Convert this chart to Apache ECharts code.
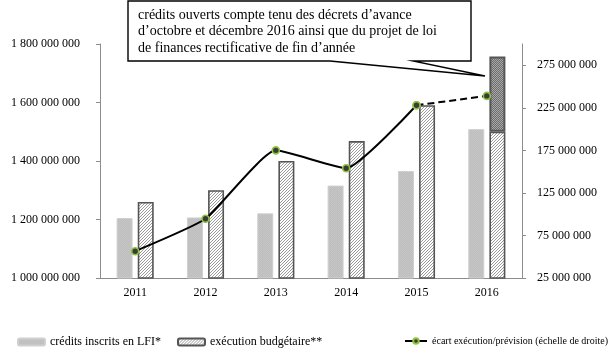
<!DOCTYPE html>
<html>
<head>
<meta charset="utf-8">
<script src="https://cdn.jsdelivr.net/npm/echarts@6/dist/echarts.min.js"></script>
<style>html,body{margin:0;padding:0;background:#fff}#c{width:615px;height:362px}</style>
</head>
<body>
<div id="c"></div>
<script>
var years = ['2011', '2012', '2013', '2014', '2015', '2016'];
var creditsLFI = [1205e6, 1207e6, 1221e6, 1316e6, 1366e6, 1509e6];
var execution = [1260e6, 1300e6, 1400e6, 1468e6, 1591e6, 1500e6];
var creditsOuverts2016 = [null, null, null, null, null, 257e6];
var ecart = [56.5e6, 94.6e6, 175e6, 154e6, 228e6, null];
var ecartProjete = [null, null, null, null, 228e6, 239e6];
var leftTicks = [1000e6, 1200e6, 1400e6, 1600e6, 1800e6];
var rightTicks = [25e6, 75e6, 125e6, 175e6, 225e6, 275e6];
var legendNames = ['crédits inscrits en LFI*', 'exécution budgétaire**', 'écart exécution/prévision (échelle de droite)'];
var calloutLines = ['crédits ouverts compte tenu des décrets d\u2019avance', 'd\u2019octobre et décembre 2016 ainsi que du projet de loi', 'de finances rectificative de fin d\u2019année'];

var FONT = '"Liberation Serif", serif';
function fmt(v) { return String(Math.round(v)).replace(/\B(?=(\d{3})+(?!\d))/g, ' '); }

function hatchPattern() {
  var c = document.createElement('canvas'); c.width = 3; c.height = 3;
  var x = c.getContext('2d');
  x.fillStyle = '#ffffff'; x.fillRect(0, 0, 3, 3);
  x.fillStyle = '#9a9a9a';
  x.fillRect(2, 0, 1, 1); x.fillRect(1, 1, 1, 1); x.fillRect(0, 2, 1, 1);
  return c;
}
function dotPattern() {
  var c = document.createElement('canvas'); c.width = 2; c.height = 2;
  var x = c.getContext('2d');
  x.fillStyle = '#6c6c6c'; x.fillRect(0, 0, 2, 2);
  x.fillStyle = '#a8a8a8'; x.fillRect(0, 0, 1, 1); x.fillRect(1, 1, 1, 1);
  return c;
}
function greyPattern() {
  var c = document.createElement('canvas'); c.width = 2; c.height = 2;
  var x = c.getContext('2d');
  x.fillStyle = '#bdbdbd'; x.fillRect(0, 0, 2, 2);
  x.fillStyle = '#c6c6c6'; x.fillRect(0, 0, 1, 1); x.fillRect(1, 1, 1, 1);
  return c;
}
var hatch = { image: hatchPattern(), repeat: 'repeat' };
var dots = { image: dotPattern(), repeat: 'repeat' };
var greyFill = { image: greyPattern(), repeat: 'repeat' };

var chart = echarts.init(document.getElementById('c'), null, { renderer: 'canvas' });
var textStyleLegend = { fontFamily: FONT, fontSize: 12, color: '#000' };
var option = {
  animation: false,
  textStyle: { fontFamily: FONT },
  grid: { left: 100, right: 93, top: 44, bottom: 84 },
  legend: [
    { data: [legendNames[0]], left: 17, top: 336, padding: 0, itemWidth: 27, itemHeight: 7, textStyle: textStyleLegend },
    { data: [legendNames[1]], left: 177, top: 336, padding: 0, itemWidth: 27, itemHeight: 7, textStyle: textStyleLegend },
    { data: [legendNames[2]], left: 404, top: 336, padding: 0, itemWidth: 22, itemHeight: 7,
      textStyle: { fontFamily: FONT, fontSize: 10, color: '#000' } }
  ],
  xAxis: {
    type: 'category', data: years,
    axisLine: { lineStyle: { color: '#8c8c8c', width: 1 } },
    axisTick: { show: false },
    axisLabel: { color: '#000', fontFamily: FONT, fontSize: 12, margin: 9 }
  },
  yAxis: [
    {
      type: 'value', min: 1000e6, max: 1800e6, interval: 200e6, position: 'left',
      splitLine: { show: false },
      axisLine: { show: true, lineStyle: { color: '#8c8c8c' } },
      axisTick: { show: true, length: 4, lineStyle: { color: '#8c8c8c' }, customValues: leftTicks },
      axisLabel: { color: '#000', fontFamily: FONT, fontSize: 12, margin: 20, formatter: fmt, customValues: leftTicks }
    },
    {
      type: 'value', min: 25e6, max: 300e6, position: 'right',
      splitLine: { show: false },
      axisLine: { show: true, lineStyle: { color: '#8c8c8c' } },
      axisTick: { show: true, length: 4, lineStyle: { color: '#8c8c8c' }, customValues: rightTicks },
      axisLabel: { color: '#000', fontFamily: FONT, fontSize: 12, margin: 15, formatter: fmt, customValues: rightTicks }
    }
  ],
  series: [
    {
      name: legendNames[0], type: 'bar', data: creditsLFI, barWidth: 16, barGap: '32%',
      itemStyle: { color: greyFill, borderColor: '#d0d0d0', borderWidth: 1 },
      z: 2
    },
    {
      name: legendNames[1], type: 'bar', data: execution, stack: 'exe', barWidth: 16,
      itemStyle: { color: hatch, borderColor: '#555555', borderWidth: 1.6 },
      z: 2
    },
    {
      name: 'crédits ouverts 2016', type: 'bar', data: creditsOuverts2016, stack: 'exe', barWidth: 16,
      itemStyle: { color: dots, borderColor: '#555555', borderWidth: 2 },
      z: 2
    },
    {
      name: legendNames[2], type: 'line', yAxisIndex: 1, data: ecart, smooth: 0.15,
      symbol: 'circle', symbolSize: 7,
      lineStyle: { color: '#000', width: 2 },
      itemStyle: { color: '#3b3b3b', borderColor: '#8fc640', borderWidth: 1.6 },
      z: 5
    },
    {
      name: 'écart projeté', type: 'line', yAxisIndex: 1, data: ecartProjete,
      symbol: 'circle', symbolSize: 7, showSymbol: true,
      lineStyle: { color: '#000', width: 2, type: [7, 4] },
      itemStyle: { color: '#3b3b3b', borderColor: '#8fc640', borderWidth: 1.6 },
      z: 5
    }
  ],
  graphic: [
    {
      type: 'polygon', z: 100,
      shape: { points: [[128, 1], [471, 1], [471, 61], [413, 61], [485, 76], [330, 61], [128, 61]] },
      style: { fill: '#fff', stroke: '#000', lineWidth: 1.4 }
    },
    {
      type: 'group', z: 101,
      children: calloutLines.map(function (t, i) {
        return { type: 'text', left: 138, top: 8 + i * 16.5, z: 101,
          style: { text: t, font: '14px "Liberation Serif", serif', fill: '#000' } };
      })
    }
  ]
};
chart.setOption(option);
</script>
</body>
</html>
